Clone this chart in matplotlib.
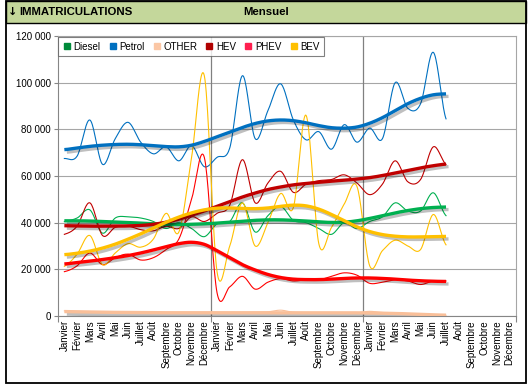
import numpy as np
import matplotlib
matplotlib.use("Agg")
import matplotlib.pyplot as plt
import matplotlib.patheffects as pe
from matplotlib.lines import Line2D
from matplotlib.patches import Rectangle

############ data ##################
months = ['Janvier', 'Février', 'Mars', 'Avril', 'Mai', 'Juin', 'Juillet', 'Août',
          'Septembre', 'Octobre', 'Novembre', 'Décembre'] * 3

# monthly values (thin lines)
diesel = [40500, 42000, 45500, 35500, 42000, 42500, 42000, 40500, 37500, 40000, 37500, 34000,
          39500, 40500, 48500, 36000, 43000, 47000, 41000, 40000, 37500, 35000, 40000, 37500,
          40500, 42500, 48500, 45000, 45000, 52800, 43000]
petrol = [67500, 68500, 84000, 65000, 76000, 83000, 74500, 69500, 72500, 66500, 73000, 64000,
          68000, 72000, 103000, 76000, 88000, 99500, 84000, 75500, 79000, 71500, 82000, 74500,
          80500, 76000, 100000, 89000, 91000, 113000, 84500]
other = [2200, 2000, 1900, 1800, 1800, 1700, 1600, 1600, 1500, 1500, 1500, 1500,
         1500, 1500, 1600, 1700, 1800, 2500, 1600, 1500, 1400, 1300, 1300, 1400,
         2000, 1500, 1300, 1000, 700, 500, 300]
hev = [35000, 38500, 48500, 34500, 38000, 38500, 37000, 36500, 38500, 37500, 42500, 40500,
       44000, 47500, 67000, 48500, 57000, 62000, 53000, 56500, 58000, 58500, 60500, 57000,
       52000, 56500, 66500, 57500, 58500, 72500, 65000]
phev = [19000, 21500, 27000, 22000, 25000, 26500, 24000, 25000, 28500, 33000, 50000, 68000,
        10000, 12500, 17000, 11500, 14500, 16000, 15000, 15500, 15500, 17000, 18500, 17500,
        14000, 14500, 15500, 15000, 13500, 15000, 15000]
bev = [21300, 26500, 34500, 22000, 27000, 31000, 29500, 33000, 44000, 36000, 68000, 103000,
       19000, 30000, 48500, 30000, 40000, 52500, 46500, 86000, 31000, 38000, 48000, 55500,
       21500, 28000, 32500, 30000, 28500, 43500, 30500]

# trend curves (thick lines)
diesel_tr = [40800, 40800, 40700, 40500, 40300, 40100, 39800, 39500, 39300, 39200, 39300, 39500,
             39800, 40200, 40600, 41000, 41200, 41200, 41000, 40700, 40300, 40100, 40200, 40800,
             41800, 43000, 44200, 45200, 46000, 46500, 46700]
petrol_tr = [71300, 72000, 72700, 73200, 73500, 73600, 73400, 73000, 72600, 72500, 73200, 74800,
             76800, 78800, 80800, 82500, 83600, 84000, 83700, 82800, 81600, 80700, 80500, 81000,
             82600, 85000, 88000, 91000, 93300, 94800, 95200]
other_tr = [1900, 1800, 1700, 1600, 1550, 1500, 1450, 1400, 1400, 1400, 1400, 1400,
            1400, 1400, 1400, 1400, 1400, 1400, 1400, 1400, 1400, 1400, 1400, 1350,
            1300, 1200, 1100, 900, 700, 500, 350]
hev_tr = [38700, 38600, 38500, 38500, 38500, 38600, 38800, 39300, 40200, 41500, 43200, 45000,
          47000, 49000, 51000, 52700, 54200, 55300, 56200, 56800, 57300, 57800, 58200, 58700,
          59300, 60200, 61300, 62400, 63500, 64400, 65100]
phev_tr = [22300, 22900, 23500, 24200, 25000, 25900, 27000, 28300, 29700, 31000, 31600, 30700,
           28000, 25000, 22000, 19700, 17800, 16500, 15800, 15600, 15600, 15800, 16100, 16300,
           16300, 16100, 15800, 15400, 15100, 14900, 14800]
bev_tr = [26300, 26900, 27800, 29100, 30800, 32900, 35200, 37700, 40200, 42400, 44200, 45500,
          46200, 46300, 46100, 46000, 46300, 47000, 47500, 47200, 45800, 43500, 40800, 38200,
          36200, 34900, 34200, 33900, 33900, 34000, 34100]

names = ['Diesel', 'Petrol', 'OTHER', 'HEV', 'PHEV', 'BEV']
series = [diesel, petrol, other, hev, phev, bev]
trends = [diesel_tr, petrol_tr, other_tr, hev_tr, phev_tr, bev_tr]
colors = ['#00B050', '#0070C0', '#F9BF99', '#C00000', '#FF0000', '#FFC000']
legend_colors = ['#008A3A', '#0070C0', '#FBC7A5', '#B00000', '#FF1F4F', '#FFC000']

############# utility ###############
def smooth(vals, n=20):
    # catmull-rom like the excel "smoothed line"
    p = np.array(vals, dtype=float)
    m = np.zeros_like(p)
    m[1:-1] = (p[2:] - p[:-2]) / 2
    m[0] = (p[1] - p[0]) / 2
    m[-1] = (p[-1] - p[-2]) / 2
    xs, ys = [], []
    t = np.linspace(0, 1, n, endpoint=False)
    for i in range(len(p) - 1):
        h00 = 2*t**3 - 3*t**2 + 1
        h10 = t**3 - 2*t**2 + t
        h01 = -2*t**3 + 3*t**2
        h11 = t**3 - t**2
        xs.append(i + t)
        ys.append(h00*p[i] + h10*m[i] + h01*p[i+1] + h11*m[i+1])
    xs.append([len(p) - 1])
    ys.append([p[-1]])
    return np.concatenate(xs), np.concatenate(ys)

W, H = 532, 389
fig = plt.figure(figsize=(W/100, H/100), dpi=100)
fig.patch.set_facecolor('white')

def fx(px):
    return px / W

def fy(py):
    return 1 - py / H

# header + frame
fig.add_artist(Rectangle((fx(6), fy(23)), fx(520), 22/H, facecolor='#C4D79B',
                         edgecolor='black', lw=1.0, transform=fig.transFigure))
fig.add_artist(Rectangle((fx(6), fy(383)), fx(520), 382/H, facecolor='none',
                         edgecolor='black', lw=1.3, transform=fig.transFigure))
hfont = ['Liberation Sans', 'DejaVu Sans']
fig.text(fx(8), fy(12), '↓', family='DejaVu Sans', weight='bold', fontsize=8,
         va='center', ha='left')
fig.text(fx(19), fy(12), 'IMMATRICULATIONS', family=hfont, weight='bold', fontsize=8.2,
         va='center', ha='left')
fig.text(fx(266), fy(12), 'Mensuel', family=hfont, weight='bold', fontsize=8.2,
         va='center', ha='center')

ax = fig.add_axes([fx(58), fy(316), (516-58)/W, (316-36)/H])

for vals, c in zip(series, colors):
    sx, sy = smooth(vals)
    ax.plot(sx, sy, color=c, lw=0.8, zorder=3)

for vals, c in zip(trends, colors):
    sx, sy = smooth(vals)
    ax.plot(sx, sy, color=c, lw=2.4, zorder=4, solid_capstyle='butt',
            path_effects=[pe.SimpleLineShadow(offset=(1.8, -1.8), shadow_color='black', alpha=0.25),
                          pe.Normal()])

ax.set_xlim(-0.5, 35.5)
ax.set_ylim(0, 120000)
ax.set_yticks(np.arange(0, 120001, 20000))
ax.set_yticklabels(['0' if v == 0 else '{} 000'.format(v // 1000) for v in range(0, 120001, 20000)],
                   family=hfont, fontsize=7)
ax.yaxis.grid(True, color='#A6A6A6', lw=0.8)
ax.set_axisbelow(True)

ax.set_xticks([-0.5, 11.5, 23.5, 35.5])
ax.set_xticklabels([])
ax.set_xticks(np.arange(36), minor=True)
ax.set_xticklabels(months, minor=True, rotation=90, family=hfont, fontsize=7, va='top')
ax.tick_params(axis='x', which='minor', length=0, pad=3)
ax.tick_params(axis='x', which='major', length=4, color='#868686')
ax.tick_params(axis='y', length=3, color='#868686', pad=2)
for s in ax.spines.values():
    s.set_color('#A6A6A6')
    s.set_linewidth(0.8)
ax.spines['left'].set_color('#868686')
ax.spines['bottom'].set_color('#868686')
for d in [11.5, 23.5]:
    ax.axvline(d, color='#808080', lw=0.9, zorder=2)

handles = [Line2D([], [], marker='s', ls='none', color=c, markersize=4.5) for c in legend_colors]
leg = ax.legend(handles, names, loc='upper left', ncol=6, mode='expand',
                bbox_to_anchor=(0.001, 0.995, 0.58, 0), prop={'family': hfont, 'size': 7},
                frameon=True, fancybox=False, handlelength=0.8, handletextpad=0.3,
                borderpad=0.45, borderaxespad=0)
leg.get_frame().set_edgecolor('#606060')
leg.get_frame().set_linewidth(0.8)
leg.set_zorder(6)

fig.savefig('out.png', dpi=100)
